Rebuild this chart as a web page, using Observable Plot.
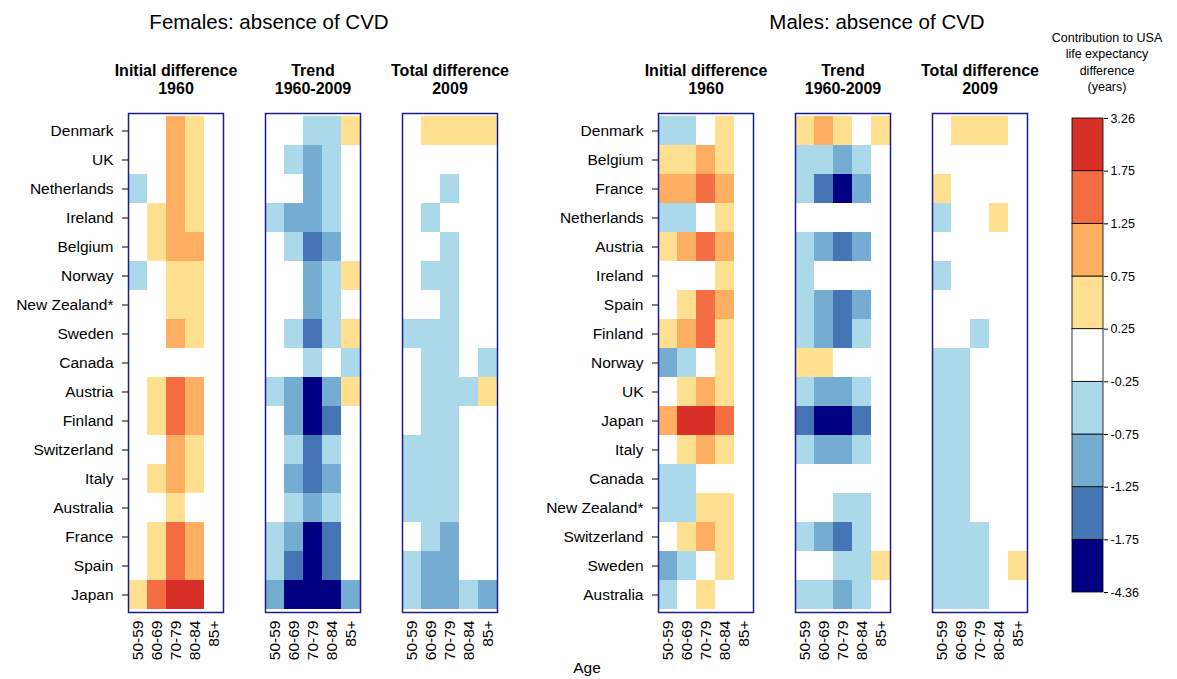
<!DOCTYPE html>
<html><head><meta charset="utf-8">
<script src="https://cdn.jsdelivr.net/npm/d3@7"></script>
<script src="https://cdn.jsdelivr.net/npm/@observablehq/plot@0.6"></script>
<style>
body{margin:0;background:#fff;font-family:Arial,"Liberation Sans",sans-serif;}
#root{position:relative;width:1177px;height:679px;overflow:hidden;background:#fff;}
.abs{position:absolute;}
.title{font-size:20.5px;line-height:20px;color:#000;transform:translateX(-50%);white-space:nowrap;}
.legtitle{font-size:12.5px;line-height:16.3px;text-align:center;transform:translateX(-50%);white-space:nowrap;}
</style></head><body><div id="root"></div>
<script>
const ages = ["50-59","60-69","70-79","80-84","85+"];
const panelNames = ["Initial difference\n1960","Trend\n1960-2009","Total difference\n2009"];

const femaleCountries = ["Denmark","UK","Netherlands","Ireland","Belgium","Norway","New Zealand*","Sweden","Canada","Austria","Finland","Switzerland","Italy","Australia","France","Spain","Japan"];
const maleCountries = ["Denmark","Belgium","France","Netherlands","Austria","Ireland","Spain","Finland","Norway","UK","Japan","Italy","Canada","New Zealand*","Switzerland","Sweden","Australia"];

// Females: values by country (rows) and age (columns)
const femInitial1960 = [
 [0,0,0.95,0.5,0],[0,0,0.9,0.45,0],[-0.4,0,0.95,0.5,0],[0,0.4,1.0,0.5,0],[0,0.45,1.05,0.8,0],
 [-0.35,0,0.6,0.5,0],[0,0,0.55,0.45,0],[0,0,0.85,0.5,0],[0,0,0.1,0.1,0],[0,0.5,1.4,1.0,0],
 [0,0.45,1.45,0.95,0],[0,0,1.0,0.55,0],[0,0.4,1.0,0.6,0],[0,0,0.5,0.1,0],[0,0.5,1.5,1.1,0],
 [0,0.45,1.45,1.05,0],[0.4,1.5,2.3,2.2,0]
];
const femTrend19602009 = [
 [0,0,-0.45,-0.4,0.35],[0,-0.4,-0.9,-0.5,0],[0,0,-0.95,-0.45,0],[-0.4,-0.8,-0.95,-0.5,0],[0,-0.5,-1.4,-0.9,0],
 [0,0,-0.9,-0.5,0.4],[0,0,-0.85,-0.45,0],[0,-0.45,-1.35,-0.5,0.4],[0,0,-0.4,0,-0.3],[-0.4,-0.85,-2.2,-0.9,0.4],
 [0,-0.9,-2.1,-1.4,0],[0,-0.5,-1.5,-0.55,0],[0,-0.9,-1.45,-0.85,0],[0,-0.45,-0.95,-0.5,0],[-0.5,-0.9,-2.4,-1.5,0],
 [-0.45,-1.4,-2.5,-1.55,0],[-0.9,-2.0,-3.2,-2.3,-0.85]
];
const femTotal2009 = [
 [0,0.4,0.45,0.4,0.35],[0,0,0,0,0],[0,0,-0.3,0,0],[0,-0.35,0,0,0],[0,0,-0.4,0,0],
 [0,-0.35,-0.4,0,0],[0,0,-0.4,0,0],[-0.4,-0.45,-0.5,0,0],[0,-0.4,-0.5,0,-0.3],[0,-0.5,-0.55,-0.35,0.35],
 [0,-0.5,-0.6,0,0],[-0.4,-0.5,-0.6,0,0],[-0.35,-0.45,-0.55,0,0],[-0.35,-0.4,-0.5,0,0],[0,-0.5,-0.85,0,0],
 [-0.5,-0.9,-1.0,0,0],[-0.6,-1.0,-1.1,-0.5,-0.8]
];

// Males
const maleInitial1960 = [
 [-0.4,-0.35,0,0.4,0],[0.45,0.5,0.9,0.45,0],[0.95,0.9,1.4,0.85,0],[-0.4,-0.35,0,0.4,0],[0.5,0.85,1.35,0.9,0],
 [0,0,0.1,0.4,0],[0,0.5,1.4,0.95,0],[0.45,0.85,1.35,0.5,0],[-0.8,-0.4,0,0.45,0],[0,0.5,0.9,0.5,0],
 [1.1,2.1,2.4,1.6,0],[0,0.45,0.95,0.5,0],[-0.35,-0.3,0,0,0],[-0.4,-0.35,0.4,0.45,0],[0,0.5,1.0,0.45,0],
 [-0.9,-0.4,0,0.4,0],[-0.35,0,0.35,0,0]
];
const maleTrend19602009 = [
 [0.35,0.8,0.45,0,0.3],[-0.4,-0.45,-0.85,-0.4,0],[-0.5,-1.45,-2.6,-1.0,0],[0,0,0,0,0],[-0.45,-0.9,-1.5,-0.85,0],
 [-0.3,0,0,0,0],[-0.45,-0.95,-1.45,-0.9,0],[-0.5,-0.95,-1.45,-0.55,0],[0.4,0.35,0,0,0],[-0.5,-0.9,-0.95,-0.5,0],
 [-1.55,-2.9,-3.1,-1.5,0],[-0.45,-0.9,-0.9,-0.5,0],[0,0,0,0,0],[0,0,-0.4,-0.45,0],[-0.5,-0.95,-1.5,-0.5,0],
 [0,0,-0.4,-0.45,0.35],[-0.5,-0.55,-0.9,-0.5,0]
];
const maleTotal2009 = [
 [0,0.35,0.4,0.3,0],[0,0,0,0,0],[0.3,0,0,0,0],[-0.3,0,0,0.3,0],[0,0,0,0,0],
 [-0.3,0,0,0,0],[0,0,0,0,0],[0,0,-0.3,0,0],[-0.4,-0.35,0,0,0],[-0.45,-0.4,0,0,0],
 [-0.5,-0.45,0,0,0],[-0.45,-0.4,0,0,0],[-0.4,-0.35,0,0,0],[-0.45,-0.4,0,0,0],[-0.5,-0.45,-0.3,0,0],
 [-0.5,-0.5,-0.35,0,0.3],[-0.55,-0.5,-0.4,0,0]
];

// Colour key
const legendBreaks = [-1.75,-1.25,-0.75,-0.25,0.25,0.75,1.25,1.75];
const legendColors = ["#000080","#4575b4","#74add1","#abd9e9","#ffffff","#fee090","#fdae61","#f46d43","#d73027"];
const legendLabels = ["-4.36","-1.75","-1.25","-0.75","-0.25","0.25","0.75","1.25","1.75","3.26"];

const FONT = "Arial, 'Liberation Sans', sans-serif";
const root = document.getElementById("root");

function place(el, left, top) {
  const d = document.createElement("div");
  d.className = "abs"; d.style.left = left + "px"; d.style.top = top + "px";
  d.appendChild(el); root.appendChild(d); return d;
}
function label(text, cls, left, top, extra) {
  const d = document.createElement("div");
  d.className = "abs " + cls; d.style.left = left + "px"; d.style.top = top + "px";
  d.innerHTML = text; if (extra) Object.assign(d.style, extra);
  root.appendChild(d);
}

function panelPlot(countries, panels, width, marginLeft, marginRight) {
  const data = [];
  panels.forEach((rows, p) => rows.forEach((r, i) => r.forEach((v, j) =>
    data.push({panel: panelNames[p], country: countries[i], age: ages[j], value: v}))));
  return Plot.plot({
    width, height: 679,
    marginTop: 113, marginBottom: 67, marginLeft, marginRight,
    style: {fontFamily: FONT, fontSize: "15.5px", color: "#000", background: "transparent"},
    fx: {domain: panelNames, paddingInner: 42 / 137, paddingOuter: 0, label: null},
    x: {domain: ages, padding: 0, label: null},
    y: {domain: countries, padding: 0, label: null},
    color: {type: "threshold", domain: legendBreaks, range: legendColors},
    marks: [
      Plot.cell(data, {x: "age", y: "country", fx: "panel", fill: "value", inset: 0, shapeRendering: "crispEdges"}),
      Plot.frame({stroke: "#1c1c8c", strokeWidth: 1.5}),
      Plot.axisFx({anchor: "top", tickSize: 0, tickPadding: 20, fontWeight: "bold", fontSize: 16, lineHeight: 1.12, label: null}),
      Plot.axisY({anchor: "left", tickSize: 6, tickPadding: 9, fontSize: 15.5, label: null}),
      Plot.axisX({anchor: "bottom", tickSize: 0, tickPadding: 8, tickRotate: -90, fontSize: 15.5, label: null})
    ]
  });
}

const fem = panelPlot(femaleCountries, [femInitial1960, femTrend19602009, femTotal2009], 540, 127, 43);
place(fem, 0, 0);
const mal = panelPlot(maleCountries, [maleInitial1960, maleTrend19602009, maleTotal2009], 540, 138, 33);
place(mal, 520, 0);

// legend colour bar
const legData = legendColors.map((c, i) => ({i, c}));
const leg = Plot.plot({
  width: 137, height: 679,
  marginTop: 118, marginBottom: 87, marginLeft: 32, marginRight: 74,
  style: {fontFamily: FONT, fontSize: "12.5px", color: "#000", background: "transparent"},
  x: {domain: [0, 1], axis: null},
  y: {domain: [0, legendColors.length], label: null},
  marks: [
    Plot.rect(legData, {x1: 0, x2: 1, y1: "i", y2: d => d.i + 1, fill: "c", stroke: "#000", strokeWidth: 0.8}),
    Plot.axisY({anchor: "right", ticks: d3.range(legendLabels.length), tickFormat: i => legendLabels[i], tickSize: 4, tickPadding: 3, label: null})
  ]
});
place(leg, 1040, 0);

label("Females: absence of CVD", "title", 269, 12);
label("Males: absence of CVD", "title", 877, 12);
label("Age", "title", 587, 660, {fontSize: "15.5px", lineHeight: "16px"});
label("Contribution to USA<br>life expectancy<br>difference<br>(years)", "legtitle", 1107, 30);
</script></body></html>
